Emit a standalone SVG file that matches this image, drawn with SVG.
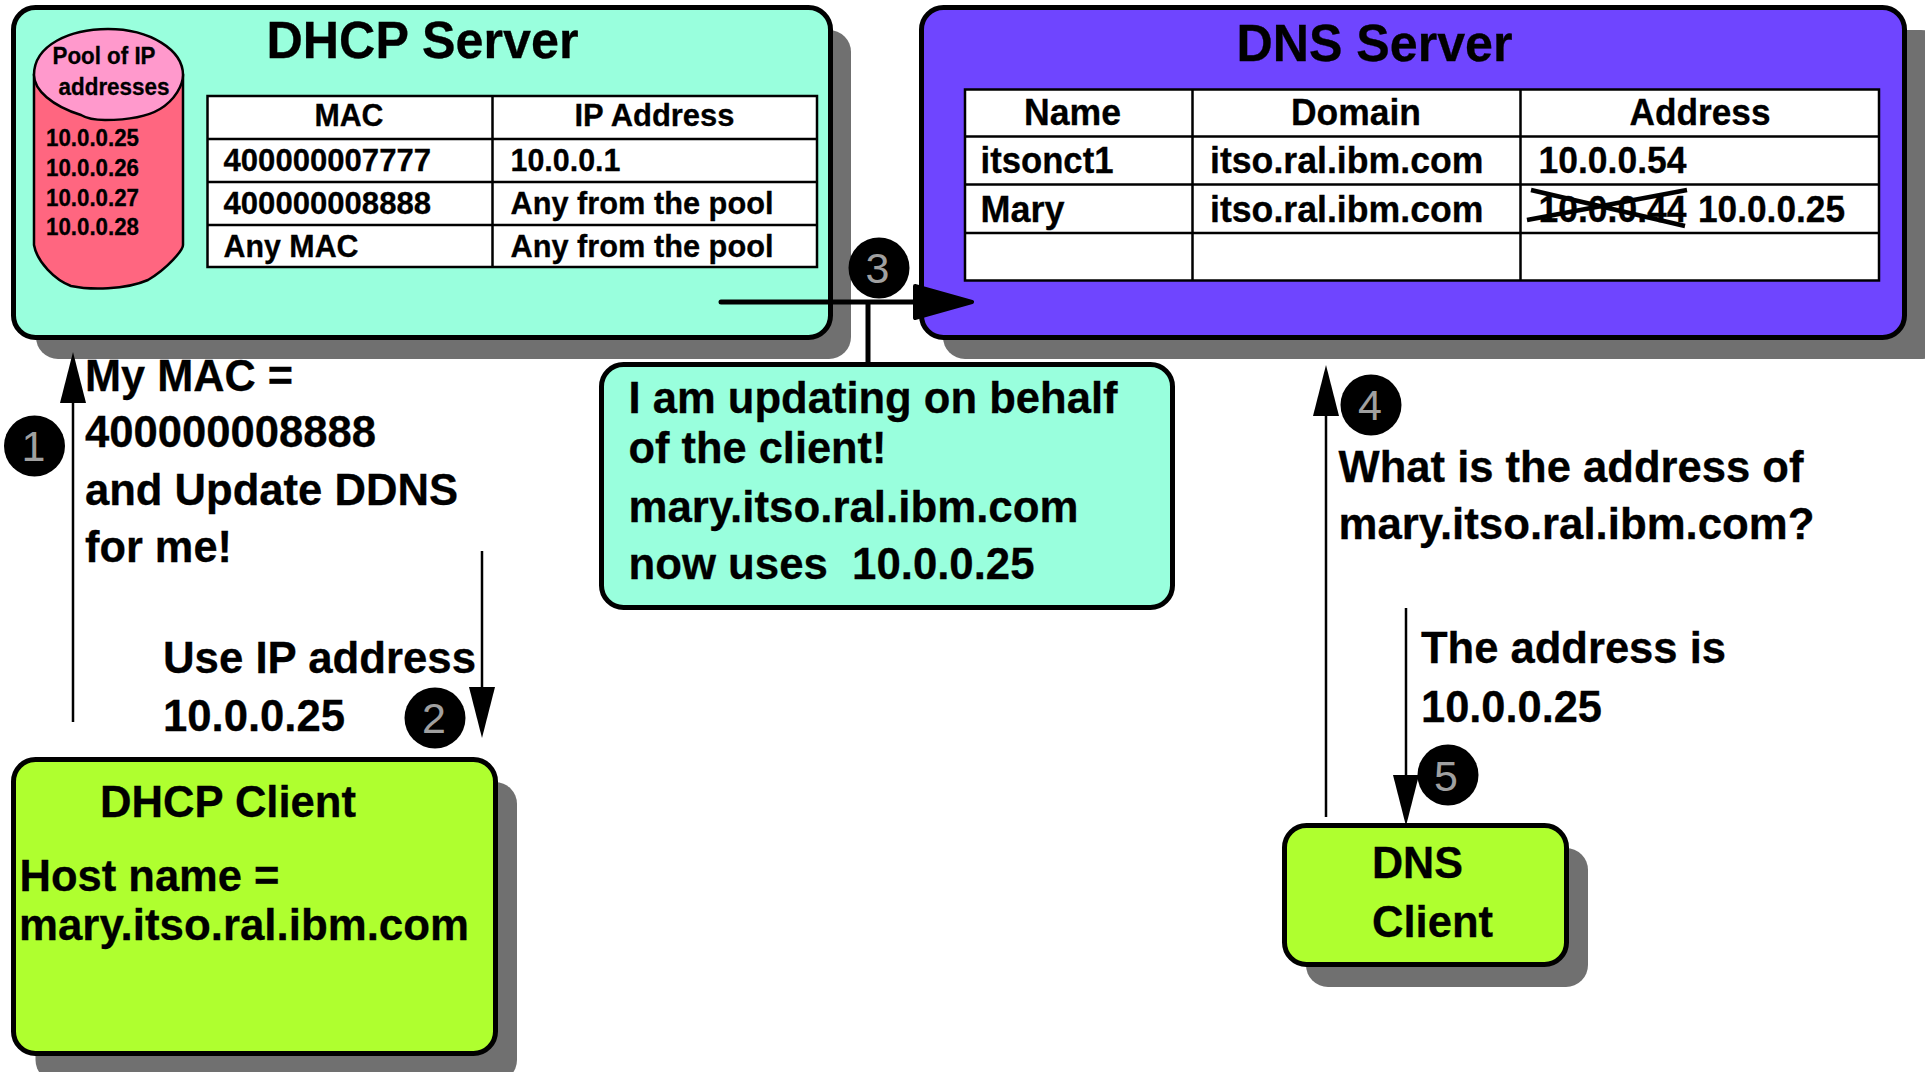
<svg xmlns="http://www.w3.org/2000/svg" width="1925" height="1072" viewBox="0 0 1925 1072">
<style>
text{font-family:"Liberation Sans",Arial,sans-serif;font-weight:700;fill:#000;stroke:#000;stroke-width:.3;}
.box{stroke:#000;stroke-width:5;}
.shadow{fill:#707070;}
.mint{fill:#99FFDD;}
.violet{fill:#6F45FF;}
.lime{fill:#AFFF2F;}
.cell{fill:#fff;stroke:#000;stroke-width:2.5;}
.grid{stroke:#000;stroke-width:2.5;fill:none;}
.conn{stroke:#000;fill:none;stroke-width:2.5;}
.badge{fill:#000;}
.num{font-weight:400;fill:#a0a0a0;stroke:none;font-size:43px;text-anchor:middle;}
.t22{font-size:23px;}
.t31{font-size:32px;}
.t35{font-size:36px;}
.t43{font-size:44px;}
.t50{font-size:52px;}
</style>
<defs>
<marker id="head" markerUnits="userSpaceOnUse" markerWidth="51" markerHeight="26" refX="0" refY="13" viewBox="0 0 51 26" orient="auto" preserveAspectRatio="none"><path d="M0 0L51 13L0 26Z" fill="#000"/></marker>
<marker id="headBig" markerUnits="userSpaceOnUse" markerWidth="62" markerHeight="36" refX="3" refY="18" viewBox="0 0 62 36" orient="auto" preserveAspectRatio="none"><path d="M3 2L60 18L3 34Z" fill="#000" stroke="#000" stroke-width="4" stroke-linejoin="round"/></marker>
</defs>
<rect width="1925" height="1072" fill="#fff"/>

<g id="dhcp-server">
<rect class="shadow" x="36" y="30" width="815" height="329" rx="22"/>
<rect class="box mint" x="13.500" y="7.500" width="817" height="330" rx="22"/>
<text class="t50" x="266.500" y="58" textLength="312" lengthAdjust="spacingAndGlyphs">DHCP Server</text>
<g id="ip-pool">
<path d="M34 75V245C37 262 55 280 71 286C90 290 125 290 148 280C168 268 183 250 183 245V75Z" fill="#FF6680" stroke="#000" stroke-width="2.500"/>
<path d="M34 75C34 45 70 29 108 29C150 29 183 50 183 75C183 85 175 100 160 109C145 118 125 120 105 120C92 120 86 118 81 115C52 106 34 90 34 75Z" fill="#FF99CC" stroke="#000" stroke-width="2.500"/>
<text class="t22" x="52.500" y="64" textLength="103" lengthAdjust="spacingAndGlyphs">Pool of IP</text>
<text class="t22" x="58.500" y="95" textLength="111" lengthAdjust="spacingAndGlyphs">addresses</text>
<text class="t22" x="46" y="146" textLength="93" lengthAdjust="spacingAndGlyphs">10.0.0.25</text>
<text class="t22" x="46" y="176" textLength="93" lengthAdjust="spacingAndGlyphs">10.0.0.26</text>
<text class="t22" x="46" y="206" textLength="93" lengthAdjust="spacingAndGlyphs">10.0.0.27</text>
<text class="t22" x="46" y="235" textLength="93" lengthAdjust="spacingAndGlyphs">10.0.0.28</text>
</g>
<g id="dhcp-table">
<rect class="cell" x="207.500" y="96" width="609.500" height="171"/>
<path class="grid" d="M492.500 96V267M207 139H817M207 182H817M207 225H817"/>
<text class="t31" x="314.500" y="126" textLength="69" lengthAdjust="spacingAndGlyphs">MAC</text>
<text class="t31" x="574.500" y="126" textLength="160" lengthAdjust="spacingAndGlyphs">IP Address</text>
<text class="t31" x="223.500" y="171" textLength="207.500" lengthAdjust="spacingAndGlyphs">400000007777</text>
<text class="t31" x="510.500" y="171" textLength="110" lengthAdjust="spacingAndGlyphs">10.0.0.1</text>
<text class="t31" x="223.500" y="214" textLength="207.500" lengthAdjust="spacingAndGlyphs">400000008888</text>
<text class="t31" x="510.500" y="214" textLength="263" lengthAdjust="spacingAndGlyphs">Any from the pool</text>
<text class="t31" x="223.500" y="257" textLength="135" lengthAdjust="spacingAndGlyphs">Any MAC</text>
<text class="t31" x="510.500" y="257" textLength="263" lengthAdjust="spacingAndGlyphs">Any from the pool</text>
</g>
</g>

<g id="dns-server">
<rect class="shadow" x="943" y="30" width="1000" height="329" rx="22"/>
<rect class="box violet" x="921.500" y="7.500" width="983" height="330" rx="22"/>
<text class="t50" x="1236.500" y="61" textLength="276" lengthAdjust="spacingAndGlyphs">DNS Server</text>
<g id="dns-table">
<rect class="cell" x="965" y="89.500" width="914" height="191"/>
<path class="grid" d="M1192.500 89V281M1520.500 89V281M965 136.500H1879M965 184.500H1879M965 233H1879"/>
<text class="t35" x="1024" y="125" textLength="97" lengthAdjust="spacingAndGlyphs">Name</text>
<text class="t35" x="1291" y="125" textLength="130" lengthAdjust="spacingAndGlyphs">Domain</text>
<text class="t35" x="1629.500" y="125" textLength="141" lengthAdjust="spacingAndGlyphs">Address</text>
<text class="t35" x="980.500" y="173" textLength="133" lengthAdjust="spacingAndGlyphs">itsonct1</text>
<text class="t35" x="1210" y="173" textLength="273.500" lengthAdjust="spacingAndGlyphs">itso.ral.ibm.com</text>
<text class="t35" x="1538.500" y="173" textLength="148" lengthAdjust="spacingAndGlyphs">10.0.0.54</text>
<text class="t35" x="980.500" y="222" textLength="84" lengthAdjust="spacingAndGlyphs">Mary</text>
<text class="t35" x="1210" y="222" textLength="273.500" lengthAdjust="spacingAndGlyphs">itso.ral.ibm.com</text>
<text class="t35" x="1538.500" y="222" textLength="148" lengthAdjust="spacingAndGlyphs">10.0.0.44</text>
<text class="t35" x="1698" y="222" textLength="147" lengthAdjust="spacingAndGlyphs">10.0.0.25</text>
<path d="M1531 190L1685 226M1527 220L1687 190" stroke="#000" stroke-width="4.500" fill="none"/>
</g>
</g>

<g id="dhcp-client">
<rect class="shadow" x="35.500" y="782" width="481.500" height="300" rx="22"/>
<rect class="box lime" x="13.500" y="759.500" width="482" height="294" rx="22"/>
<text class="t43" x="100" y="817" textLength="256" lengthAdjust="spacingAndGlyphs">DHCP Client</text>
<text class="t43" x="19.500" y="891" textLength="260" lengthAdjust="spacingAndGlyphs">Host name =</text>
<text class="t43" x="19" y="940" textLength="450" lengthAdjust="spacingAndGlyphs">mary.itso.ral.ibm.com</text>
</g>

<g id="dns-client">
<rect class="shadow" x="1306" y="848" width="282" height="139" rx="22"/>
<rect class="box lime" x="1284.500" y="825.500" width="282" height="139" rx="22"/>
<text class="t43" x="1372" y="878" textLength="91" lengthAdjust="spacingAndGlyphs">DNS</text>
<text class="t43" x="1372" y="937" textLength="121" lengthAdjust="spacingAndGlyphs">Client</text>
</g>

<g id="connectors">
<path class="conn" d="M73 722V403" marker-end="url(#head)"/>
<path class="conn" d="M482 551V687" marker-end="url(#head)"/>
<path class="conn" d="M1326 817V416" marker-end="url(#head)"/>
<path class="conn" d="M1406 608V775" marker-end="url(#head)"/>
<path class="conn" style="stroke-width:5;stroke-linecap:round" d="M721 302H915" marker-end="url(#headBig)"/>
<path class="conn" style="stroke-width:5" d="M868 302V365"/>
</g>

<g id="update-callout">
<rect class="box mint" x="601.500" y="364.500" width="571" height="243" rx="22"/>
<text class="t43" x="628.500" y="413" textLength="489" lengthAdjust="spacingAndGlyphs">I am updating on behalf</text>
<text class="t43" x="628.500" y="463" textLength="258" lengthAdjust="spacingAndGlyphs">of the client!</text>
<text class="t43" x="628.500" y="522" textLength="450" lengthAdjust="spacingAndGlyphs">mary.itso.ral.ibm.com</text>
<text class="t43" x="628.500" y="579" textLength="406" lengthAdjust="spacingAndGlyphs" xml:space="preserve">now uses  10.0.0.25</text>
</g>

<g id="labels">
<text class="t43" x="85" y="391" textLength="208" lengthAdjust="spacingAndGlyphs">My MAC =</text>
<text class="t43" x="85" y="447" textLength="291" lengthAdjust="spacingAndGlyphs">400000008888</text>
<text class="t43" x="85" y="505" textLength="373" lengthAdjust="spacingAndGlyphs">and Update DDNS</text>
<text class="t43" x="85" y="562" textLength="147" lengthAdjust="spacingAndGlyphs">for me!</text>
<text class="t43" x="163" y="673" textLength="313" lengthAdjust="spacingAndGlyphs">Use IP address</text>
<text class="t43" x="163" y="731" textLength="182" lengthAdjust="spacingAndGlyphs">10.0.0.25</text>
<text class="t43" x="1338.500" y="482" textLength="465" lengthAdjust="spacingAndGlyphs">What is the address of</text>
<text class="t43" x="1338.500" y="539" textLength="476" lengthAdjust="spacingAndGlyphs">mary.itso.ral.ibm.com?</text>
<text class="t43" x="1421" y="663" textLength="305" lengthAdjust="spacingAndGlyphs">The address is</text>
<text class="t43" x="1421" y="722" textLength="181" lengthAdjust="spacingAndGlyphs">10.0.0.25</text>
</g>

<g id="badge-1"><circle class="badge" cx="34.500" cy="446" r="30.500"/><text class="num" x="33.500" y="461">1</text></g>
<g id="badge-2"><circle class="badge" cx="435" cy="718" r="30.500"/><text class="num" x="434" y="733">2</text></g>
<g id="badge-3"><circle class="badge" cx="879" cy="268" r="30.500"/><text class="num" x="877.500" y="283">3</text></g>
<g id="badge-4"><circle class="badge" cx="1371" cy="405" r="30.500"/><text class="num" x="1370" y="420">4</text></g>
<g id="badge-5"><circle class="badge" cx="1448" cy="775" r="30.500"/><text class="num" x="1446" y="791">5</text></g>
</svg>
